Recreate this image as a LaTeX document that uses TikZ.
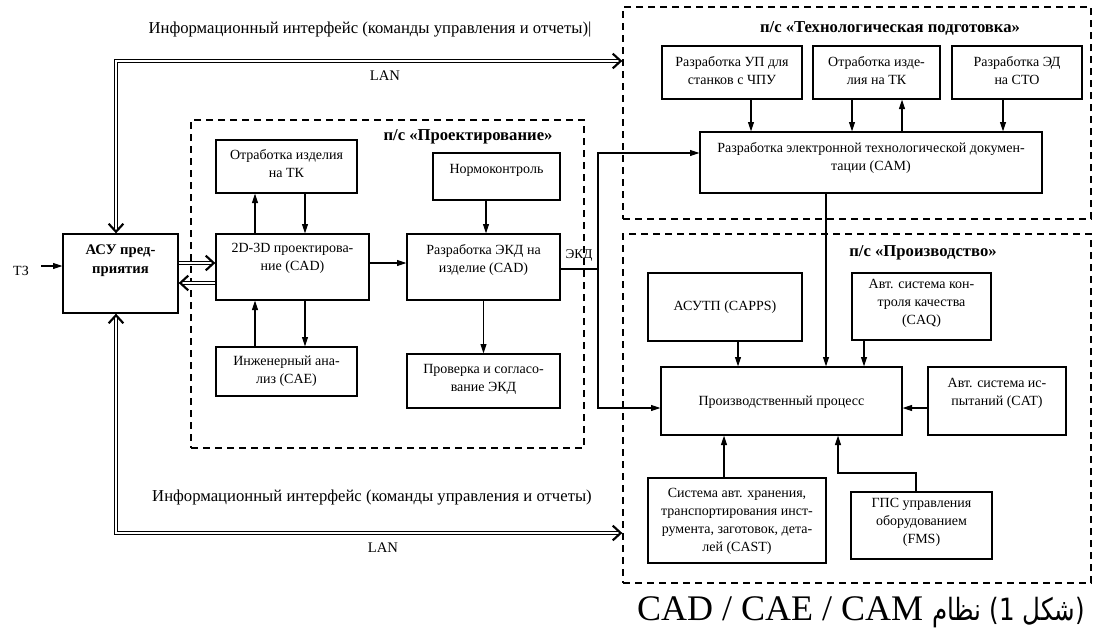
\documentclass[tikz,border=0pt]{standalone}
\usepackage{fontspec}
\setmainfont{Liberation Serif}
\newfontfamily\arabicfont[Script=Arabic, FakeStretch=0.8]{DejaVu Sans}
\TeXXeTstate=1
\usetikzlibrary{arrows.meta,fit,calc}
\tikzset{
  box/.style={draw, line width=1pt, inner sep=0pt},
  grp/.style={draw, line width=1pt, dash pattern=on 5.5pt off 3.5pt, inner sep=0pt},
  txt/.style={inner sep=0pt, align=center, font=\fontsize{10.5}{13.5}\selectfont},
  ttl/.style={inner sep=0pt, font=\fontsize{12.5}{14}\selectfont\bfseries},
  info/.style={inner sep=0pt, font=\fontsize{12.5}{15}\selectfont},
  lbl/.style={inner sep=0pt, font=\fontsize{10}{12}\selectfont},
  arr/.style={line width=0.8pt, -{Triangle[length=7pt,width=4.5pt]}},
  plain/.style={line width=0.8pt},
  dtip/.tip={Straight Barb[length=6pt,width=11pt,line width=1.6pt]},
  dbl/.style={double, double distance=1.4pt, line width=0.85pt, -dtip},
}
\newcommand\mybox[8]{\node[box, fit={(#2,#3)(#4,#5)}] (#1) {};
  \node[txt,#7] (#1-t) at ({(#2+#4)/2},#6) {#8};}
\begin{document}
\begin{tikzpicture}[x=0.75pt,y=-0.75pt]
\fill[white] (0,0) rectangle (1116,629);
\useasboundingbox (0,0) rectangle (1116,629);

% group frames
\node[grp, fit={(191,120)(584,448)}] (proj) {};
\node[grp, fit={(623,7)(1091,219)}] (tech) {};
\node[grp, fit={(623,234)(1091,583)}] (prod) {};
\node[ttl] (proj-t) at (468,137) {п/с «Проектирование»};
\node[ttl] (tech-t) at (890,28) {п/с «Технологическая подготовка»};
\node[ttl] (prod-t) at (923,253) {п/с «Производство»};

% left part
\mybox{asu}{63}{234}{178}{313}{261}{font=\fontsize{11}{14}\selectfont\bfseries}{АСУ пред-\\приятия}
\node[lbl, font=\fontsize{10.5}{12}\selectfont] (tz) at (21,271) {ТЗ};

% design subsystem
\mybox{ot1}{216}{140}{357}{193}{164}{}{Отработка изделия\\на ТК}
\mybox{norm}{433}{153}{560}{200}{170}{}{Нормоконтроль}
\mybox{cad}{216}{234}{369}{300}{258}{}{2D-3D проектирова-\\ние (CAD)}
\mybox{ekd}{407}{234}{560}{300}{260}{}{Разработка ЭКД на\\изделие (CAD)}
\mybox{cae}{216}{347}{357}{396}{371}{}{Инженерный ана-\\лиз (CAE)}
\mybox{prov}{407}{354}{560}{408}{379}{}{Проверка и согласо-\\вание ЭКД}

% technological preparation
\mybox{up}{662}{46}{802}{99}{71}{}{Разработка УП для\\станков с ЧПУ}
\mybox{ot2}{813}{46}{940}{99}{71}{}{Отработка изде-\\лия на ТК}
\mybox{ed}{952}{46}{1082}{99}{71}{}{Разработка ЭД\\на СТО}
\mybox{cam}{700}{132}{1042}{193}{158}{}{Разработка электронной технологической докумен-\\тации (CAM)}

% production
\mybox{asutp}{648}{273}{802}{341}{307}{}{АСУТП (CAPPS)}
\mybox{caq}{852}{273}{991}{340}{303}{}{Авт. система кон-\\троля качества\\(CAQ)}
\mybox{proc}{661}{367}{902}{435}{402}{}{Производственный процесс}
\mybox{cat}{928}{367}{1066}{435}{393}{}{Авт. система ис-\\пытаний (CAT)}
\mybox{cast}{648}{478}{826}{563}{521}{}{Система авт. хранения,\\транспортирования инст-\\румента, заготовок, дета-\\лей (CAST)}
\mybox{fms}{851}{492}{992}{559}{522}{}{ГПС управления\\оборудованием\\(FMS)}

% texts
\node[info] (inf1) at (370,30) {Информационный интерфейс (команды управления и отчеты)|};
\node[info] (inf2) at (372,498) {Информационный интерфейс (команды управления и отчеты)};
\node[lbl, font=\fontsize{11}{13}\selectfont] (lan1) at (385,76) {LAN};
\node[lbl, font=\fontsize{11}{13}\selectfont] (lan2) at (383,548) {LAN};
\node[lbl] (ekd-l) at (579,255) {ЭКД};

% LAN double connections
\coordinate (lanA) at (116,61);
\coordinate (lanB) at (116,533);
\draw[dbl, dtip-dtip] (asu.north -| lanA) -- (lanA) -- (tech.west |- lanA);
\draw[dbl, dtip-dtip] (asu.south -| lanB) -- (lanB) -- (prod.west |- lanB);
\draw[dbl] (asu.east |- 0,263) -- (cad.west |- 0,263);
\draw[dbl] (cad.west |- 0,283) -- (asu.east |- 0,283);

% single arrows
\draw[arr, shorten <=9pt] (tz.east |- 0,266) -- (asu.west |- 0,266);
\draw[arr] (cad.north -| 255,0) -- (ot1.south -| 255,0);
\draw[arr] (ot1.south -| 305,0) -- (cad.north -| 305,0);
\draw[arr] (cad.south -| 305,0) -- (cae.north -| 305,0);
\draw[arr] (cae.north -| 255,0) -- (cad.south -| 255,0);
\draw[arr] (cad.east |- 0,263) -- (ekd.west |- 0,263);
\draw[arr] (norm.south -| 486,0) -- (ekd.north -| 486,0);
\draw[arr] (ekd.south) -- (prov.north);

\coordinate (ekdj) at (598,269);
\draw[plain] (ekd.east |- ekdj) -- (ekdj);
\draw[arr] (ekdj) |- (cam.west |- 0,153);
\draw[arr] (ekdj) |- (proc.west |- 0,408);

\draw[arr] (up.south -| 751,0) -- (cam.north -| 751,0);
\draw[arr] (ot2.south -| 852,0) -- (cam.north -| 852,0);
\draw[arr] (cam.north -| 902,0) -- (ot2.south -| 902,0);
\draw[arr] (ed.south -| 1003,0) -- (cam.north -| 1003,0);
\draw[arr] (cam.south -| 826,0) -- (proc.north -| 826,0);

\draw[arr] (asutp.south -| 738,0) -- (proc.north -| 738,0);
\draw[arr] (caq.south -| 864,0) -- (proc.north -| 864,0);
\draw[arr] (cat.west |- 0,408) -- (proc.east |- 0,408);
\draw[arr] (cast.north -| 724,0) -- (proc.south -| 724,0);
\coordinate (fmsk) at (838,473);
\draw[arr] (fms.north -| 916,0) |- (fmsk) -- (proc.south -| fmsk);

% caption
\node[inner sep=0pt, font=\fontsize{27}{30}\selectfont] (cap) at (861,612)
  {\beginR{\arabicfont\fontsize{23}{28}\selectfont (شكل 1) نظام} \beginL CAD / CAE / CAM\endL\endR};
\end{tikzpicture}
\end{document}
